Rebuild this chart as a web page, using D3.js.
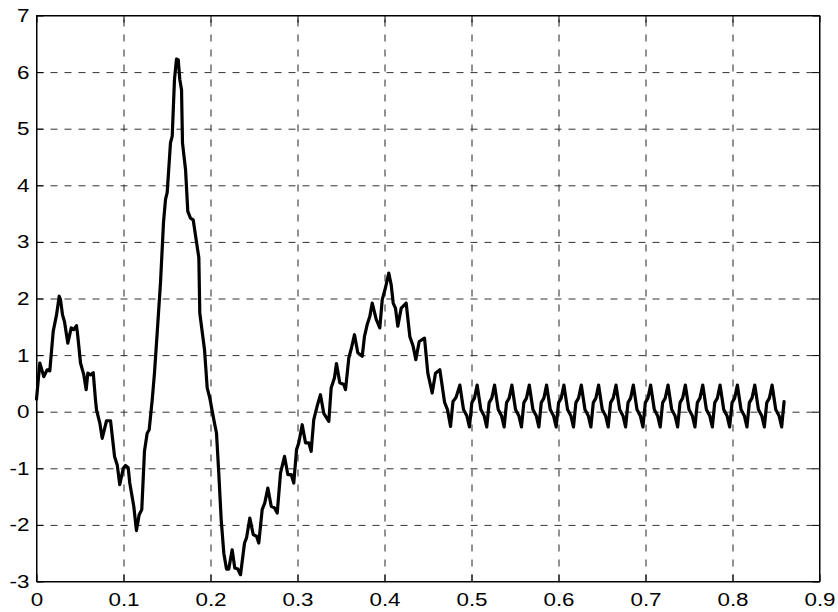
<!DOCTYPE html>
<html><head><meta charset="utf-8">
<script src="https://cdn.jsdelivr.net/npm/d3@7/dist/d3.min.js"></script>
<style>body{margin:0;background:#fff}svg{display:block}</style>
</head><body>
<svg id="c" width="838" height="612"></svg>
<script>
const xTicks = [0, 0.1, 0.2, 0.3, 0.4, 0.5, 0.6, 0.7, 0.8, 0.9];
const yTicks = [-3, -2, -1, 0, 1, 2, 3, 4, 5, 6, 7];

// transient part: [time, value]
const transient = [
 [0.0000,0.22],[0.0038,0.86],[0.0084,0.62],[0.0123,0.74],[0.0153,0.72],[0.0192,1.42],
 [0.0230,1.71],[0.0261,2.04],[0.0276,1.98],[0.0299,1.71],[0.0322,1.59],[0.0360,1.21],
 [0.0399,1.48],[0.0429,1.45],[0.0460,1.52],[0.0475,1.33],[0.0506,0.86],[0.0544,0.65],
 [0.0571,0.39],[0.0590,0.68],[0.0621,0.65],[0.0652,0.69],[0.0678,0.21],[0.0690,0.03],
 [0.0728,-0.20],[0.0755,-0.47],[0.0805,-0.16],[0.0851,-0.16],[0.0897,-0.79],[0.0928,-0.94],
 [0.0957,-1.29],[0.0997,-1.00],[0.1023,-0.95],[0.1054,-0.99],[0.1072,-1.26],[0.1118,-1.67],
 [0.1149,-2.10],[0.1180,-1.82],[0.1210,-1.73],[0.1241,-0.70],[0.1272,-0.38],[0.1295,-0.32],
 [0.1330,0.21],[0.1356,0.68],[0.1387,1.39],[0.1425,2.27],[0.1460,3.35],[0.1483,3.75],
 [0.1502,3.87],[0.1540,4.75],[0.1560,4.87],[0.1586,5.87],[0.1609,6.23],[0.1629,6.22],
 [0.1647,5.87],[0.1667,5.69],[0.1678,4.75],[0.1713,4.28],[0.1739,3.54],[0.1770,3.42],
 [0.1801,3.39],[0.1866,2.72],[0.1877,1.74],[0.1931,1.10],[0.1962,0.42],[0.1992,0.24],
 [0.2038,-0.14],[0.2069,-0.38],[0.2095,-1.08],[0.2123,-1.91],[0.2153,-2.50],[0.2184,-2.78],
 [0.2210,-2.78],[0.2249,-2.44],[0.2279,-2.76],[0.2314,-2.78],[0.2345,-2.88],[0.2391,-2.32],
 [0.2414,-2.23],[0.2452,-1.88],[0.2491,-2.17],[0.2529,-2.20],[0.2555,-2.32],[0.2594,-1.73],
 [0.2624,-1.61],[0.2659,-1.35],[0.2698,-1.67],[0.2736,-1.70],[0.2767,-1.79],[0.2805,-1.08],
 [0.2851,-0.79],[0.2889,-1.11],[0.2928,-1.11],[0.2957,-1.26],[0.2989,-0.67],[0.3015,-0.55],
 [0.3054,-0.23],[0.3092,-0.55],[0.3130,-0.55],[0.3157,-0.70],[0.3187,-0.14],[0.3226,0.10],
 [0.3264,0.30],[0.3302,-0.03],[0.3360,-0.17],[0.3387,0.42],[0.3425,0.60],[0.3448,0.85],
 [0.3486,0.51],[0.3532,0.48],[0.3552,0.39],[0.3590,0.95],[0.3621,1.13],[0.3655,1.36],
 [0.3693,1.04],[0.3744,0.98],[0.3770,1.33],[0.3801,1.54],[0.3831,1.68],[0.3859,1.92],
 [0.3905,1.63],[0.3946,1.48],[0.3974,1.98],[0.4011,2.19],[0.4049,2.45],[0.4077,2.24],
 [0.4100,1.92],[0.4126,1.83],[0.4153,1.51],[0.4192,1.83],[0.4249,1.92],[0.4291,1.33],
 [0.4330,1.15],[0.4360,0.92],[0.4399,1.24],[0.4460,1.30],[0.4498,0.68],[0.4548,0.33],
 [0.4586,0.68],[0.4636,0.74],[0.4690,0.17],[0.4724,0.035],[0.4759,-0.26],[0.4787,0.18],
 [0.4822,0.25]
];

// steady-state ripple: [time, value]
const steady = [
 [0.4866,0.47],[0.4908,0.04],[0.4946,-0.07],[0.4976,-0.27],[0.5004,0.16],[0.5034,0.24],
 [0.5065,0.47],[0.5107,0.04],[0.5145,-0.07],[0.5175,-0.27],[0.5203,0.16],[0.5233,0.24],
 [0.5265,0.47],[0.5307,0.04],[0.5345,-0.07],[0.5375,-0.27],[0.5403,0.16],[0.5433,0.24],
 [0.5464,0.47],[0.5506,0.04],[0.5544,-0.07],[0.5574,-0.27],[0.5602,0.16],[0.5632,0.24],
 [0.5664,0.47],[0.5706,0.04],[0.5744,-0.07],[0.5774,-0.27],[0.5802,0.16],[0.5832,0.24],
 [0.5863,0.47],[0.5905,0.04],[0.5943,-0.07],[0.5973,-0.27],[0.6001,0.16],[0.6031,0.24],
 [0.6062,0.47],[0.6104,0.04],[0.6142,-0.07],[0.6172,-0.27],[0.6200,0.16],[0.6230,0.24],
 [0.6262,0.47],[0.6304,0.04],[0.6342,-0.07],[0.6372,-0.27],[0.6400,0.16],[0.6430,0.24],
 [0.6461,0.47],[0.6503,0.04],[0.6541,-0.07],[0.6571,-0.27],[0.6599,0.16],[0.6629,0.24],
 [0.6661,0.47],[0.6703,0.04],[0.6741,-0.07],[0.6771,-0.27],[0.6799,0.16],[0.6829,0.24],
 [0.6860,0.47],[0.6902,0.04],[0.6940,-0.07],[0.6970,-0.27],[0.6998,0.16],[0.7028,0.24],
 [0.7059,0.47],[0.7101,0.04],[0.7139,-0.07],[0.7169,-0.27],[0.7197,0.16],[0.7227,0.24],
 [0.7259,0.47],[0.7301,0.04],[0.7339,-0.07],[0.7369,-0.27],[0.7397,0.16],[0.7427,0.24],
 [0.7458,0.47],[0.7500,0.04],[0.7538,-0.07],[0.7568,-0.27],[0.7596,0.16],[0.7626,0.24],
 [0.7658,0.47],[0.7700,0.04],[0.7738,-0.07],[0.7768,-0.27],[0.7796,0.16],[0.7826,0.24],
 [0.7857,0.47],[0.7899,0.04],[0.7937,-0.07],[0.7967,-0.27],[0.7995,0.16],[0.8025,0.24],
 [0.8056,0.47],[0.8098,0.04],[0.8136,-0.07],[0.8166,-0.27],[0.8194,0.16],[0.8224,0.24],
 [0.8256,0.47],[0.8298,0.04],[0.8336,-0.07],[0.8366,-0.27],[0.8394,0.16],[0.8424,0.24],
 [0.8455,0.47],[0.8497,0.04],[0.8535,-0.07],[0.8565,-0.27],[0.8593,0.18]
];

const signal = transient.concat(steady);

const L = 36.5, R = 819.5, T = 15.5, B = 581.5;
const svg = d3.select("#c");
const x = d3.scaleLinear().domain([0, 0.9]).range([L, R]);
const y = d3.scaleLinear().domain([-3, 7]).range([B, T]);

// grid
const gx = svg.append("g").attr("transform", `translate(0,${B})`)
  .call(d3.axisBottom(x).tickValues(xTicks.slice(1, -1)).tickSize(-(B - T)).tickFormat(""));
gx.select(".domain").remove();
gx.selectAll("line").attr("stroke", "#222").attr("stroke-dasharray", "7,8");
const gy = svg.append("g").attr("transform", `translate(${L},0)`)
  .call(d3.axisLeft(y).tickValues(yTicks.slice(1, -1)).tickSize(-(R - L)).tickFormat(""));
gy.select(".domain").remove();
gy.selectAll("line").attr("stroke", "#333").attr("stroke-dasharray", "7,7");

// curve
svg.append("path").datum(signal)
  .attr("d", d3.line().x(d => x(d[0])).y(d => y(d[1])))
  .attr("fill", "none").attr("stroke", "#000").attr("stroke-width", 3.2)
  .attr("stroke-linejoin", "round").attr("stroke-linecap", "round");

// axes with inward ticks
const font = "'Liberation Sans', Arial, Helvetica, sans-serif";
const ax = svg.append("g").attr("transform", `translate(0,${B})`)
  .call(d3.axisBottom(x).tickValues(xTicks).tickSize(-7).tickSizeOuter(0).tickPadding(11)
    .tickFormat(d => d === 0 ? "0" : d3.format(".1f")(d)));
const ay = svg.append("g").attr("transform", `translate(${L},0)`)
  .call(d3.axisLeft(y).tickValues(yTicks).tickSize(-7).tickSizeOuter(0).tickPadding(6)
    .tickFormat(d => String(d)));
const at = svg.append("g").attr("transform", `translate(0,${T})`)
  .call(d3.axisTop(x).tickValues(xTicks).tickSize(-7).tickSizeOuter(0).tickFormat(""));
const ar = svg.append("g").attr("transform", `translate(${R},0)`)
  .call(d3.axisRight(y).tickValues(yTicks).tickSize(-7).tickSizeOuter(0).tickFormat(""));
[ax, ay, at, ar].forEach(g => {
  g.select(".domain").attr("stroke", "#000");
  g.selectAll(".tick line").attr("stroke", "#000");
  g.selectAll("text").attr("fill", "#000").attr("font-family", font)
    .attr("font-size", 19).attr("transform", "scale(1.18,1)");
});
svg.append("rect").attr("x", L).attr("y", T).attr("width", R - L).attr("height", B - T)
  .attr("fill", "none").attr("stroke", "#000").attr("stroke-width", 1);
</script>
</body></html>
